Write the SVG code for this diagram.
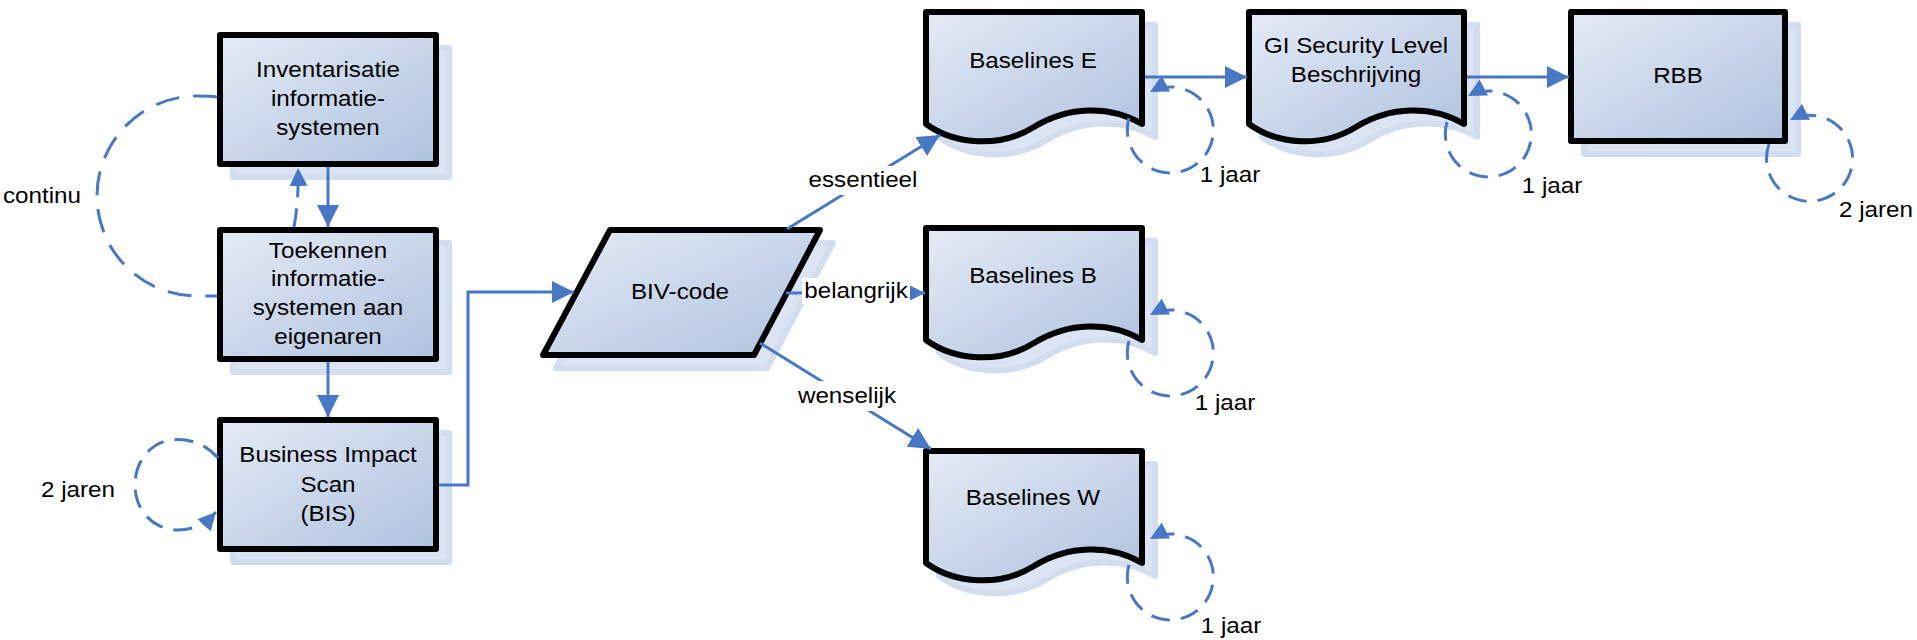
<svg xmlns="http://www.w3.org/2000/svg" width="1917" height="640" viewBox="0 0 1917 640">
<style>
.sh{fill:#dbe4f2;stroke:#d2ddef;stroke-width:6;stroke-linejoin:round}
.bx{fill:url(#g);stroke:#000;stroke-width:6;stroke-linejoin:round}
.t{font-family:"Liberation Sans",Arial,sans-serif;font-size:22px;fill:#000;text-anchor:middle}
.c{fill:none;stroke:#4878c3;stroke-width:3}
.d{fill:none;stroke:#4878c3;stroke-width:3;stroke-dasharray:19 11}
.lb{fill:#fff}
</style>
<defs>
<linearGradient id="g" x1="0" y1="0" x2="1" y2="1">
<stop offset="0" stop-color="#e4ebf6"/>
<stop offset="1" stop-color="#afc2df"/>
</linearGradient>
<marker id="a" markerUnits="userSpaceOnUse" markerWidth="22" markerHeight="22" refX="22" refY="11" orient="auto">
<path d="M0,0 L22,11 L0,22 Z" fill="#4878c3"/>
</marker>
<marker id="s" markerUnits="userSpaceOnUse" markerWidth="18" markerHeight="18" refX="18" refY="9" orient="auto">
<path d="M0,0 L18,9 L0,18 Z" fill="#4878c3"/>
</marker>
</defs>
<rect width="1917" height="640" fill="#fff"/>

<g id="inventarisatie">
<rect class="sh" x="233" y="48" width="216" height="129"/>
<rect class="bx" x="220" y="35" width="216" height="129"/>
<text class="t" transform="translate(328,0) scale(1.1,1)"><tspan x="0" y="77">Inventarisatie</tspan><tspan x="0" y="106">informatie-</tspan><tspan x="0" y="135">systemen</tspan></text>
</g>

<g id="toekennen">
<rect class="sh" x="233" y="243" width="216" height="129"/>
<rect class="bx" x="220" y="230" width="216" height="129"/>
<text class="t" transform="translate(328,0) scale(1.1,1)"><tspan x="0" y="258">Toekennen</tspan><tspan x="0" y="286">informatie-</tspan><tspan x="0" y="315">systemen aan</tspan><tspan x="0" y="344">eigenaren</tspan></text>
</g>

<g id="bis">
<rect class="sh" x="233" y="433" width="216" height="129"/>
<rect class="bx" x="220" y="420" width="216" height="129"/>
<text class="t" transform="translate(328,0) scale(1.1,1)"><tspan x="0" y="462">Business Impact</tspan><tspan x="0" y="492">Scan</tspan><tspan x="0" y="521">(BIS)</tspan></text>
</g>

<g id="biv">
<polygon class="sh" points="623,243 833,243 767,368 556,368"/>
<polygon class="bx" points="610,230 820,230 754,355 543,355"/>
<text class="t" transform="translate(680,0) scale(1.1,1)"><tspan x="0" y="299">BIV-code</tspan></text>
</g>

<g id="baselinesE">
<path class="sh" transform="translate(13,13)" d="M926,12 H1142 V124 C1110,105 1068,106 1034,127 C1000,148 955,145 926,124 Z"/>
<path class="bx" d="M926,12 H1142 V124 C1110,105 1068,106 1034,127 C1000,148 955,145 926,124 Z"/>
<text class="t" transform="translate(1033,0) scale(1.1,1)"><tspan x="0" y="68">Baselines E</tspan></text>
</g>

<g id="gi">
<path class="sh" transform="translate(13,13)" d="M1249,12 H1464 V124 C1432,105 1390,106 1356,127 C1322,148 1278,145 1249,124 Z"/>
<path class="bx" d="M1249,12 H1464 V124 C1432,105 1390,106 1356,127 C1322,148 1278,145 1249,124 Z"/>
<text class="t" transform="translate(1356,0) scale(1.1,1)"><tspan x="0" y="53">GI Security Level</tspan><tspan x="0" y="82">Beschrijving</tspan></text>
</g>

<g id="rbb">
<rect class="sh" x="1584" y="25" width="214" height="129"/>
<rect class="bx" x="1571" y="12" width="214" height="129"/>
<text class="t" transform="translate(1678,0) scale(1.1,1)"><tspan x="0" y="83">RBB</tspan></text>
</g>

<g id="baselinesB">
<path class="sh" transform="translate(13,13)" d="M926,228 H1142 V340 C1110,321 1068,322 1034,343 C1000,364 955,361 926,340 Z"/>
<path class="bx" d="M926,228 H1142 V340 C1110,321 1068,322 1034,343 C1000,364 955,361 926,340 Z"/>
<text class="t" transform="translate(1033,0) scale(1.1,1)"><tspan x="0" y="283">Baselines B</tspan></text>
</g>

<g id="baselinesW">
<path class="sh" transform="translate(13,13)" d="M926,451 H1142 V563 C1110,544 1068,545 1034,566 C1000,587 955,584 926,563 Z"/>
<path class="bx" d="M926,451 H1142 V563 C1110,544 1068,545 1034,566 C1000,587 955,584 926,563 Z"/>
<text class="t" transform="translate(1033,0) scale(1.1,1)"><tspan x="0" y="505">Baselines W</tspan></text>
</g>

<g id="connectors">
<path class="c" d="M328,167 L328,227" marker-end="url(#a)"/>
<path class="c" d="M328,362 L328,417" marker-end="url(#a)"/>
<path class="c" d="M439,485 H468 V292 H574" marker-end="url(#a)"/>
<path class="c" d="M787,229 L940,135" marker-end="url(#a)"/>
<path class="c" d="M786,293 L925,293" marker-end="url(#s)"/>
<path class="c" d="M760,343 L931,449" marker-end="url(#a)"/>
<path class="c" d="M1145,77 L1247,77" marker-end="url(#a)"/>
<path class="c" d="M1467,77 L1569,77" marker-end="url(#a)"/>

<path class="d" style="stroke-dasharray:24 14" d="M217,97 C210,96 204,96 197,96 A100,100 0 0 0 197,296 L217,296"/>
<path class="d" d="M294,227 Q299,200 298,168" marker-end="url(#s)"/>
<path class="d" d="M218,458 C205,443 188,438 170,440 C150,443 135,462 135,485 C135,512 155,530 178,530 C195,530 207,522 216,512" marker-end="url(#s)"/>
<path class="d" d="M1129,118 A43,43 0 1 0 1150,92" marker-end="url(#s)"/>
<path class="d" d="M1447,122 A43,43 0 1 0 1468,96" marker-end="url(#s)"/>
<path class="d" d="M1769,144 A43,43 0 1 0 1790,120" marker-end="url(#s)"/>
<path class="d" d="M1129,341 A43,43 0 1 0 1150,315" marker-end="url(#s)"/>
<path class="d" d="M1129,565 A43,43 0 1 0 1150,539" marker-end="url(#s)"/>

<rect class="lb" x="805" y="166" width="116" height="29"/>
<rect class="lb" x="802" y="278" width="108" height="26"/>
<rect class="lb" x="794" y="381" width="107" height="30"/>
</g>

<g id="labels">
<text class="t" transform="translate(863,0) scale(1.1,1)"><tspan x="0" y="187">essentieel</tspan></text>
<text class="t" transform="translate(856,0) scale(1.1,1)"><tspan x="0" y="298">belangrijk</tspan></text>
<text class="t" transform="translate(847,0) scale(1.1,1)"><tspan x="0" y="403">wenselijk</tspan></text>
<text class="t" transform="translate(42,0) scale(1.1,1)"><tspan x="0" y="203">continu</tspan></text>
<text class="t" transform="translate(78,0) scale(1.1,1)"><tspan x="0" y="497">2 jaren</tspan></text>
<text class="t" transform="translate(1230,0) scale(1.1,1)"><tspan x="0" y="182">1 jaar</tspan></text>
<text class="t" transform="translate(1552,0) scale(1.1,1)"><tspan x="0" y="193">1 jaar</tspan></text>
<text class="t" transform="translate(1876,0) scale(1.1,1)"><tspan x="0" y="217">2 jaren</tspan></text>
<text class="t" transform="translate(1225,0) scale(1.1,1)"><tspan x="0" y="410">1 jaar</tspan></text>
<text class="t" transform="translate(1231,0) scale(1.1,1)"><tspan x="0" y="633">1 jaar</tspan></text>
</g>
</svg>
